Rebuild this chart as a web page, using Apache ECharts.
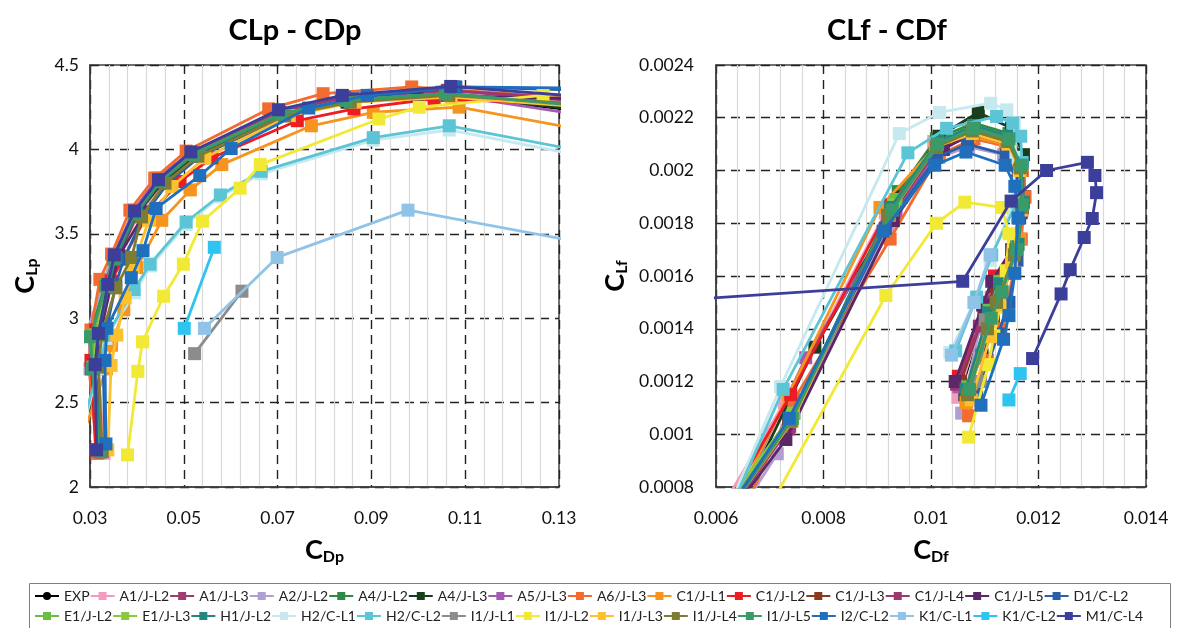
<!DOCTYPE html>
<html>
<head>
<meta charset="utf-8">
<script src="https://cdn.jsdelivr.net/npm/echarts@6/dist/echarts.min.js"></script>
<style>
  html, body { margin: 0; padding: 0; background: #fff; }
  #chart { width: 1177px; height: 628px; }
</style>
</head>
<body>
<div id="chart"></div>
<script>
// Axis ticks
const cdpTicks = [0.03, 0.05, 0.07, 0.09, 0.11, 0.13];
const clpTicks = [2, 2.5, 3, 3.5, 4, 4.5];
const cdfTicks = [0.006, 0.008, 0.010, 0.012, 0.014];
const clfTicks = [0.0008, 0.0010, 0.0012, 0.0014, 0.0016, 0.0018, 0.0020, 0.0022, 0.0024];

// Case names (legend order)
const caseNames = [
  'EXP', 'A1/J-L2', 'A1/J-L3', 'A2/J-L2', 'A4/J-L2', 'A4/J-L3', 'A5/J-L3', 'A6/J-L3',
  'C1/J-L1', 'C1/J-L2', 'C1/J-L3', 'C1/J-L4', 'C1/J-L5', 'D1/C-L2',
  'E1/J-L2', 'E1/J-L3', 'H1/J-L2', 'H2/C-L1', 'H2/C-L2', 'I1/J-L1', 'I1/J-L2',
  'I1/J-L3', 'I1/J-L4', 'I1/J-L5', 'I2/C-L2', 'K1/C-L1', 'K1/C-L2', 'M1/C-L4'
];

// Pressure polar: [CDp, CLp]
const exp_p  = [[0.0322,2.21],[0.0314,2.72],[0.0320,2.90],[0.0340,3.19],[0.0356,3.35],[0.0400,3.62],[0.0452,3.80],[0.0522,3.96],[0.0710,4.20],[0.0850,4.28],[0.1060,4.32],[0.150,4.18]];
const a1l2_p = [[0.0330,2.20],[0.0318,2.70],[0.0322,2.89],[0.0342,3.18],[0.0358,3.34],[0.0402,3.61],[0.0455,3.80],[0.0525,3.96],[0.0712,4.20],[0.0852,4.28],[0.1065,4.33],[0.150,4.24]];
const a1l3_p = [[0.0321,2.21],[0.0312,2.71],[0.0319,2.90],[0.0339,3.19],[0.0354,3.36],[0.0398,3.62],[0.0449,3.81],[0.0519,3.97],[0.0706,4.21],[0.0845,4.30],[0.1058,4.34],[0.150,4.26]];
const a2l2_p = [[0.0318,2.20],[0.0300,2.70],[0.0296,2.94],[0.0330,3.22],[0.0348,3.37],[0.0392,3.63],[0.0443,3.82],[0.0512,3.98],[0.0700,4.22],[0.0840,4.30],[0.1050,4.34],[0.150,4.22]];
const a4l2_p = [[0.0320,2.21],[0.0303,2.70],[0.0299,2.90],[0.0333,3.20],[0.0350,3.36],[0.0394,3.62],[0.0447,3.81],[0.0517,3.97],[0.0704,4.21],[0.0843,4.29],[0.1055,4.33],[0.150,4.20]];
const a4l3_p = [[0.0323,2.21],[0.0313,2.71],[0.0320,2.90],[0.0341,3.19],[0.0357,3.35],[0.0401,3.62],[0.0453,3.80],[0.0523,3.96],[0.0710,4.20],[0.0848,4.28],[0.1062,4.32],[0.150,4.19]];
const a5l3_p = [[0.0322,2.22],[0.0310,2.72],[0.0316,2.91],[0.0336,3.21],[0.0351,3.37],[0.0394,3.64],[0.0444,3.83],[0.0513,3.98],[0.0700,4.22],[0.0836,4.30],[0.1050,4.33],[0.150,4.14]];
const a6l3_p = [[0.0315,2.20],[0.0298,2.70],[0.0302,2.93],[0.0321,3.23],[0.0346,3.38],[0.0385,3.64],[0.0438,3.83],[0.0505,3.99],[0.0681,4.24],[0.0797,4.33],[0.0986,4.37],[0.150,4.27]];
const c1l1_p = [[0.0290,2.35],[0.0335,2.70],[0.0346,2.84],[0.0372,3.05],[0.0400,3.30],[0.0453,3.58],[0.0514,3.76],[0.0581,3.91],[0.0772,4.14],[0.0904,4.22],[0.1087,4.25],[0.150,4.04]];
const c1l2_p = [[0.0312,2.22],[0.0302,2.75],[0.0312,2.93],[0.0345,3.22],[0.0372,3.36],[0.0420,3.60],[0.0492,3.81],[0.0560,3.95],[0.0742,4.17],[0.0863,4.24],[0.1034,4.30],[0.150,4.25]];
const c1l3_p = [[0.0322,2.21],[0.0311,2.71],[0.0318,2.90],[0.0340,3.19],[0.0356,3.35],[0.0400,3.62],[0.0452,3.81],[0.0522,3.97],[0.0708,4.21],[0.0846,4.29],[0.1060,4.33],[0.150,4.23]];
const c1l4_p = [[0.0323,2.21],[0.0313,2.72],[0.0320,2.91],[0.0341,3.20],[0.0357,3.36],[0.0401,3.63],[0.0451,3.82],[0.0520,3.98],[0.0705,4.22],[0.0842,4.31],[0.1062,4.35],[0.150,4.27]];
const c1l5_p = [[0.0325,2.21],[0.0315,2.72],[0.0322,2.91],[0.0345,3.20],[0.0362,3.37],[0.0418,3.63],[0.0466,3.81],[0.0539,3.97],[0.0720,4.20],[0.0860,4.29],[0.0998,4.32],[0.150,4.29]];
const d1l2_p = [[0.0332,2.24],[0.0328,2.74],[0.0335,2.93],[0.0355,3.20],[0.0372,3.35],[0.0415,3.61],[0.0466,3.80],[0.0535,3.96],[0.0720,4.21],[0.0860,4.30],[0.1080,4.37],[0.150,4.34]];
const e1l2_p = [[0.0321,2.21],[0.0306,2.71],[0.0305,2.90],[0.0336,3.20],[0.0352,3.36],[0.0396,3.62],[0.0448,3.81],[0.0518,3.97],[0.0705,4.21],[0.0844,4.29],[0.1058,4.33],[0.150,4.22]];
const e1l3_p = [[0.0322,2.21],[0.0309,2.71],[0.0312,2.90],[0.0338,3.20],[0.0354,3.36],[0.0398,3.62],[0.0450,3.81],[0.0520,3.97],[0.0707,4.21],[0.0846,4.29],[0.1060,4.33],[0.150,4.21]];
const h1l2_p = [[0.0323,2.21],[0.0311,2.71],[0.0317,2.90],[0.0339,3.19],[0.0355,3.36],[0.0399,3.62],[0.0451,3.81],[0.0521,3.97],[0.0708,4.21],[0.0847,4.29],[0.1061,4.33],[0.150,4.22]];
const h2c1_p = [[0.0290,2.40],[0.0318,2.70],[0.0334,2.88],[0.0395,3.15],[0.0430,3.31],[0.0505,3.555],[0.0578,3.72],[0.0665,3.855],[0.0904,4.055],[0.1066,4.115],[0.150,3.88]];
const h2c2_p = [[0.0292,2.45],[0.0320,2.72],[0.0336,2.90],[0.0394,3.17],[0.0428,3.32],[0.0505,3.57],[0.0578,3.73],[0.0665,3.87],[0.0904,4.07],[0.1066,4.14],[0.150,3.91]];
const i1l1_p = [[0.0523,2.79],[0.0624,3.16]];
const i1l2_p = [[0.0380,2.19],[0.0402,2.685],[0.0412,2.86],[0.0457,3.13],[0.0499,3.32],[0.0540,3.575],[0.0620,3.77],[0.0663,3.91],[0.0916,4.18],[0.1002,4.25],[0.1266,4.32],[0.150,4.34]];
const i1l3_p = [[0.0338,2.22],[0.0345,2.72],[0.0357,2.90],[0.0375,3.12],[0.0392,3.30],[0.0425,3.58],[0.0475,3.78],[0.0545,3.95],[0.0725,4.20],[0.0865,4.28],[0.1070,4.31],[0.150,4.22]];
const i1l4_p = [[0.0326,2.21],[0.0318,2.71],[0.0325,2.90],[0.0355,3.18],[0.0389,3.36],[0.0410,3.60],[0.0460,3.80],[0.0530,3.96],[0.0715,4.20],[0.0855,4.28],[0.1065,4.32],[0.150,4.24]];
const i1l5_p = [[0.0321,2.21],[0.0305,2.70],[0.0301,2.89],[0.0334,3.19],[0.0351,3.35],[0.0395,3.62],[0.0448,3.81],[0.0519,3.97],[0.0706,4.21],[0.0846,4.29],[0.1058,4.33],[0.150,4.22]];
const i2c2_p = [[0.0334,2.255],[0.0332,2.75],[0.0336,2.94],[0.0388,3.24],[0.0413,3.40],[0.0441,3.65],[0.0534,3.845],[0.0601,4.005],[0.0766,4.245],[0.0891,4.32],[0.1075,4.37],[0.150,4.36]];
const k1c1_p = [[0.0544,2.94],[0.0699,3.36],[0.0978,3.64],[0.150,3.37]];
const k1c2_p = [[0.0501,2.94],[0.0565,3.42]];
const m1c4_p = [[0.0314,2.22],[0.0311,2.725],[0.0318,2.91],[0.0338,3.20],[0.0352,3.375],[0.0395,3.635],[0.0446,3.82],[0.0515,3.985],[0.0702,4.235],[0.0838,4.32],[0.1069,4.373],[0.150,4.28]];

// Friction polar: [CDf, CLf]
const exp_f  = [[0.0062,0.00070],[0.00740,0.00104],[0.00920,0.00182],[0.01010,0.00210],[0.01080,0.00217],[0.01145,0.00213],[0.01168,0.00203],[0.01170,0.00188],[0.01158,0.00172],[0.01125,0.00158],[0.01102,0.00148],[0.01058,0.00118]];
const a1l2_f = [[0.0061,0.00072],[0.00727,0.00112],[0.00915,0.00184],[0.01005,0.00211],[0.01075,0.00216],[0.01140,0.00212],[0.01165,0.00202],[0.01166,0.00186],[0.01152,0.00170],[0.01118,0.00157],[0.01098,0.00146],[0.01050,0.00114]];
const a1l3_f = [[0.0062,0.00069],[0.00735,0.00102],[0.00925,0.00181],[0.01015,0.00209],[0.01078,0.00214],[0.01143,0.00210],[0.01166,0.00200],[0.01168,0.00184],[0.01155,0.00168],[0.01120,0.00156],[0.01100,0.00147],[0.01048,0.00119]];
const a2l2_f = [[0.0063,0.00066],[0.00714,0.000926],[0.00920,0.00178],[0.01015,0.00205],[0.01070,0.00209],[0.01135,0.00206],[0.01160,0.00196],[0.01162,0.00182],[0.01150,0.00166],[0.01112,0.00152],[0.01090,0.00140],[0.01057,0.00108]];
const a4l2_f = [[0.0061,0.00071],[0.00745,0.00108],[0.00939,0.00192],[0.01010,0.00212],[0.01080,0.00218],[0.01145,0.00214],[0.01170,0.00205],[0.01172,0.00190],[0.01160,0.00174],[0.01132,0.00154],[0.01110,0.00144],[0.01070,0.00116]];
const a4l3_f = [[0.0064,0.00072],[0.00784,0.00133],[0.00945,0.00190],[0.01015,0.00213],[0.01088,0.00222],[0.01150,0.00216],[0.01172,0.00206],[0.01174,0.00190],[0.01160,0.00172],[0.01116,0.00143],[0.01095,0.00130],[0.01063,0.00115]];
const a5l3_f = [[0.0063,0.00070],[0.00767,0.00129],[0.00935,0.00184],[0.01012,0.00208],[0.01075,0.00213],[0.01140,0.00209],[0.01163,0.00199],[0.01165,0.00184],[0.01152,0.00168],[0.01118,0.00154],[0.01098,0.00145],[0.01052,0.00118]];
const a6l3_f = [[0.0064,0.00066],[0.00745,0.00113],[0.00924,0.00174],[0.01015,0.00206],[0.01080,0.00212],[0.01145,0.00209],[0.01170,0.00200],[0.01175,0.00190],[0.01168,0.00174],[0.01130,0.00140],[0.01105,0.00128],[0.01070,0.00107]];
const c1l1_f = [[0.00577,0.00050],[0.00735,0.00115],[0.00905,0.00186],[0.01008,0.00209],[0.01072,0.00213],[0.01138,0.00210],[0.01163,0.00200],[0.01170,0.00188],[0.01165,0.00174],[0.01130,0.00150],[0.01105,0.00138],[0.01065,0.00112]];
const c1l2_f = [[0.0062,0.00073],[0.00739,0.00115],[0.00925,0.00187],[0.01012,0.00210],[0.01078,0.00215],[0.01143,0.00211],[0.01167,0.00201],[0.01170,0.00186],[0.01158,0.00170],[0.01118,0.00160],[0.01098,0.00150],[0.01051,0.00122]];
const c1l3_f = [[0.0062,0.00070],[0.00735,0.00104],[0.00920,0.00183],[0.01012,0.00209],[0.01078,0.00214],[0.01144,0.00210],[0.01167,0.00200],[0.01169,0.00185],[0.01156,0.00169],[0.01120,0.00156],[0.01100,0.00147],[0.01055,0.00120]];
const c1l4_f = [[0.0062,0.00069],[0.00737,0.00103],[0.00922,0.00182],[0.01014,0.00209],[0.01077,0.00214],[0.01143,0.00210],[0.01166,0.00200],[0.01168,0.00185],[0.01155,0.00169],[0.01108,0.00150],[0.01090,0.00141],[0.01048,0.00119]];
const c1l5_f = [[0.0062,0.00068],[0.00730,0.00098],[0.00930,0.00181],[0.01023,0.00208],[0.01076,0.00214],[0.01142,0.00211],[0.01165,0.00200],[0.01166,0.00184],[0.01150,0.00170],[0.01113,0.00158],[0.01096,0.00149],[0.01045,0.00120]];
const d1l2_f = [[0.0062,0.00069],[0.00738,0.00105],[0.00915,0.00178],[0.01010,0.00205],[0.01068,0.00210],[0.01140,0.00206],[0.01160,0.00196],[0.01165,0.00182],[0.01160,0.00166],[0.01145,0.00150],[0.01125,0.00138],[0.01085,0.00114]];
const e1l2_f = [[0.0061,0.00071],[0.00742,0.00107],[0.00935,0.00189],[0.01012,0.00211],[0.01080,0.00217],[0.01146,0.00213],[0.01169,0.00203],[0.01171,0.00188],[0.01160,0.00172],[0.01128,0.00158],[0.01108,0.00147],[0.01068,0.00118]];
const e1l3_f = [[0.0061,0.00071],[0.00744,0.00108],[0.00930,0.00187],[0.01012,0.00210],[0.01079,0.00216],[0.01145,0.00212],[0.01168,0.00202],[0.01171,0.00187],[0.01161,0.00171],[0.01130,0.00156],[0.01110,0.00145],[0.01070,0.00116]];
const h1l2_f = [[0.0062,0.00071],[0.00740,0.00106],[0.00925,0.00186],[0.01013,0.00211],[0.01080,0.00217],[0.01146,0.00213],[0.01170,0.00203],[0.01172,0.00188],[0.01162,0.00172],[0.01128,0.00157],[0.01107,0.00146],[0.01065,0.00117]];
const h2c1_f = [[0.00577,0.00050],[0.00720,0.00118],[0.00941,0.00214],[0.01016,0.00222],[0.01111,0.002255],[0.01141,0.00223],[0.01155,0.00218],[0.01158,0.00205],[0.01150,0.00186],[0.01110,0.00166],[0.01080,0.00150],[0.01035,0.00131]];
const h2c2_f = [[0.00580,0.00050],[0.00725,0.00117],[0.00957,0.002067],[0.01029,0.00216],[0.01122,0.002205],[0.01152,0.00218],[0.01167,0.00213],[0.01169,0.00203],[0.01160,0.00188],[0.01113,0.00168],[0.01085,0.00152],[0.01046,0.001316]];
const i1l1_f = [[0.01092,0.00120],[0.01101,0.001434]];
const i1l2_f = [[0.0068,0.00065],[0.00916,0.001526],[0.01010,0.00180],[0.01063,0.00188],[0.01132,0.00186],[0.01145,0.00176],[0.01140,0.00162],[0.01128,0.00148],[0.01117,0.001373],[0.01107,0.001264],[0.01070,0.000989]];
const i1l3_f = [[0.0062,0.00070],[0.00742,0.00105],[0.00922,0.00183],[0.01010,0.00209],[0.01077,0.00214],[0.01143,0.00210],[0.01166,0.00200],[0.01168,0.00185],[0.01150,0.00165],[0.01128,0.00149],[0.01110,0.00137],[0.01075,0.00113]];
const i1l4_f = [[0.0062,0.00070],[0.00740,0.00105],[0.00920,0.00183],[0.01010,0.00209],[0.01077,0.00215],[0.01143,0.00211],[0.01166,0.00201],[0.01168,0.00186],[0.01155,0.00168],[0.01122,0.00150],[0.01105,0.00140],[0.01068,0.00115]];
const i1l5_f = [[0.0062,0.00070],[0.00742,0.00106],[0.00928,0.00185],[0.01012,0.00210],[0.01079,0.00216],[0.01145,0.00212],[0.01168,0.00202],[0.01170,0.00187],[0.01160,0.00170],[0.01132,0.00154],[0.01112,0.00144],[0.01072,0.00117]];
const i2c2_f = [[0.0062,0.00070],[0.00736,0.00106],[0.00911,0.00177],[0.01007,0.00202],[0.01065,0.00207],[0.01138,0.00202],[0.01156,0.00194],[0.01162,0.00182],[0.01156,0.00161],[0.01145,0.00145],[0.01135,0.00136],[0.01093,0.00111]];
const k1c1_f = [[0.01038,0.00130],[0.01080,0.00150],[0.01110,0.00168]];
const k1c2_f = [[0.01145,0.00113],[0.01166,0.00123]];
const m1c4_f = [[0.0040,0.00149],[0.01059,0.00158],[0.01149,0.001884],[0.01215,0.00200],[0.01291,0.002031],[0.01305,0.001981],[0.01308,0.001916],[0.01300,0.001818],[0.01285,0.001746],[0.01259,0.001624],[0.01242,0.001532],[0.01189,0.001287]];

const pressureData = [exp_p, a1l2_p, a1l3_p, a2l2_p, a4l2_p, a4l3_p, a5l3_p, a6l3_p, c1l1_p, c1l2_p, c1l3_p, c1l4_p, c1l5_p, d1l2_p,
  e1l2_p, e1l3_p, h1l2_p, h2c1_p, h2c2_p, i1l1_p, i1l2_p, i1l3_p, i1l4_p, i1l5_p, i2c2_p, k1c1_p, k1c2_p, m1c4_p];
const frictionData = [exp_f, a1l2_f, a1l3_f, a2l2_f, a4l2_f, a4l3_f, a5l3_f, a6l3_f, c1l1_f, c1l2_f, c1l3_f, c1l4_f, c1l5_f, d1l2_f,
  e1l2_f, e1l3_f, h1l2_f, h2c1_f, h2c2_f, i1l1_f, i1l2_f, i1l3_f, i1l4_f, i1l5_f, i2c2_f, k1c1_f, k1c2_f, m1c4_f];

const caseColors = [
  '#000000', '#f49ac1', '#9e3d6e', '#b09fd0', '#2e8b46', '#173f1d', '#a35ab0', '#f26b2f',
  '#f7941d', '#ed1c24', '#8b3a1e', '#9c3770', '#5b2769', '#2a5ea8',
  '#6abd45', '#8dc63f', '#23877d', '#c6e8ef', '#5bc5d6', '#8c8c8c', '#f2e935',
  '#fdc02f', '#7d7c35', '#3a9a6a', '#1f6fbd', '#90c3e8', '#2ec4f0', '#3c3f9a'
];

const FONT = 'Lato, "Noto Sans", sans-serif';
const round = (v, d) => String(+v.toFixed(d));

function valueAxis(grid, ticks, digits, labelMargin, name, nameGap, vertical) {
  return {
    type: 'value', gridIndex: grid,
    min: ticks[0], max: ticks[ticks.length - 1],
    interval: +(ticks[1] - ticks[0]).toFixed(6),
    axisLine: { show: true, lineStyle: { color: '#404040', width: 1.5 } },
    axisTick: { show: false },
    axisLabel: { fontFamily: FONT, fontSize: 17.5, color: '#111', margin: labelMargin,
                 formatter: v => round(v, digits) },
    splitLine: { show: true, lineStyle: { color: '#222', width: 1.4, type: [9, 6] } },
    minorTick: { show: false, splitNumber: 5 },
    minorSplitLine: { show: !vertical, lineStyle: { color: '#d9d9d9', width: 1.2 } },
    name: name, nameLocation: 'middle', nameGap: nameGap, nameRotate: vertical ? 90 : 0,
    nameTextStyle: { fontFamily: FONT, color: '#000', rich: {
      a: { fontFamily: FONT, fontSize: 27, fontWeight: 'bold', color: '#000', lineHeight: 30 },
      b: { fontFamily: FONT, fontSize: 16, fontWeight: 'bold', color: '#000', lineHeight: 18, verticalAlign: 'bottom', padding: [8, 0, 0, 0] }
    } }
  };
}

const series = [];
caseNames.forEach((n, i) => {
  const isExp = n === 'EXP';
  const base = {
    name: n, type: 'line',
    symbol: isExp ? 'circle' : 'rect',
    symbolSize: isExp ? 8 : 13,
    color: caseColors[i],
    lineStyle: { width: 2.8, color: caseColors[i] },
    itemStyle: { color: caseColors[i] },
    clip: true,
    z: 2 + i * 0.01
  };
  series.push(Object.assign({}, base, { xAxisIndex: 0, yAxisIndex: 0, data: pressureData[i] }));
  series.push(Object.assign({}, base, { xAxisIndex: 1, yAxisIndex: 1, data: frictionData[i] }));
});

const legendBase = {
  left: 34, itemGap: 0, itemWidth: 24, itemHeight: 10, padding: 0,
  textStyle: { fontFamily: FONT, fontSize: 14, color: '#222', width: 54, overflow: 'none' }
};

const option = {
  animation: false,
  backgroundColor: '#fff',
  title: [
    { text: 'CLp - CDp', left: 290, top: 11, textAlign: 'center',
      textStyle: { fontFamily: FONT, fontSize: 29, fontWeight: 'bold', color: '#000' } },
    { text: 'CLf - CDf', left: 882, top: 11, textAlign: 'center',
      textStyle: { fontFamily: FONT, fontSize: 29, fontWeight: 'bold', color: '#000' } }
  ],
  grid: [
    { left: 90, right: 618, top: 65, bottom: 141, show: true, borderColor: '#404040', borderWidth: 1.5 },
    { left: 716, right: 31, top: 65, bottom: 141, show: true, borderColor: '#404040', borderWidth: 1.5 }
  ],
  xAxis: [
    valueAxis(0, cdpTicks, 3, 22, '{a|C}{b|Dp}', 48, false),
    valueAxis(1, cdfTicks, 4, 22, '{a|C}{b|Df}', 48, false)
  ],
  yAxis: [
    valueAxis(0, clpTicks, 1, 11, '{a|C}{b|Lp}', 50, true),
    valueAxis(1, clfTicks, 5, 22, '{a|C}{b|Lf}', 86, true)
  ],
  legend: [
    Object.assign({}, legendBase, { top: 589, data: caseNames.slice(0, 14) }),
    Object.assign({}, legendBase, { top: 609, data: caseNames.slice(14) })
  ],
  graphic: [
    { type: 'rect', shape: { x: 29.5, y: 583.5, width: 1141, height: 60 },
      style: { fill: 'none', stroke: '#7f7f7f', lineWidth: 1 }, z: -1 }
  ],
  series: series
};

const chart = echarts.init(document.getElementById('chart'), null, { renderer: 'canvas' });
chart.setOption(option);
</script>
</body>
</html>
